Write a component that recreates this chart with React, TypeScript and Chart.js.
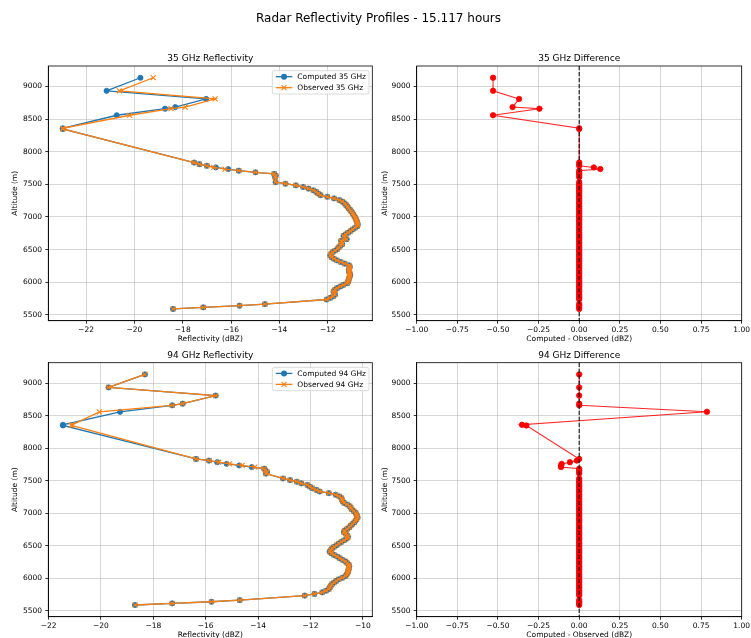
import React, { useEffect, useRef } from 'react';
import { Chart, registerables } from 'chart.js';
Chart.register(...registerables);

// ---------------- data ----------------
const altitudes = [
  9135, 8935, 8810, 8685, 8660, 8560, 8360, 8350,
  7835, 7810, 7785, 7760, 7735, 7710, 7685, 7660, 7635, 7610,
  7535, 7510, 7485, 7460, 7435, 7410, 7385, 7360, 7335, 7310, 7285, 7260, 7235, 7210, 7185, 7160,
  7135, 7110, 7085, 7060, 7035, 7010, 6985, 6960, 6935, 6910, 6885, 6860, 6835, 6810, 6785, 6760,
  6735, 6710, 6685, 6660, 6635, 6610, 6585, 6560, 6535, 6510, 6485, 6460, 6435, 6410, 6385, 6360,
  6335, 6310, 6285, 6260, 6235, 6210, 6185, 6160, 6135, 6110, 6085, 6060, 6035, 6010, 5985, 5960,
  5935, 5910, 5885, 5860, 5835, 5810, 5785, 5760, 5735,
  5665, 5640, 5615, 5590,
];

const computed35 = [
  -19.75, -21.15, -17.03, -18.31, -18.73, -20.73, -22.96, -22.96,
  -17.53, -17.31, -17.0, -16.63, -16.12, -15.68, -14.99, -14.22, -14.15, -14.18,
  -14.16, -13.75, -13.32, -13.02, -12.8, -12.6, -12.48, -12.4, -12.3, -12.02, -11.74, -11.52, -11.4, -11.3, -11.25, -11.19,
  -11.14, -11.08, -11.03, -10.98, -10.94, -10.9, -10.86, -10.83, -10.8, -10.78, -10.76, -10.78, -10.87, -10.97, -11.06, -11.16,
  -11.26, -11.35, -11.3, -11.22, -11.45, -11.42, -11.4, -11.48, -11.55, -11.6, -11.7, -11.8, -11.86, -11.9, -11.85, -11.75,
  -11.62, -11.46, -11.3, -11.12, -11.09, -11.12, -11.13, -11.12, -11.09, -11.07, -11.1, -11.12, -11.14, -11.16, -11.2, -11.35,
  -11.48, -11.62, -11.7, -11.76, -11.75, -11.7, -11.78, -11.9, -12.05,
  -14.6, -15.65, -17.15, -18.4,
];

const observed35 = [
  -19.22, -20.62, -16.66, -17.9, -18.485, -20.2, -22.96, -22.96,
  -17.53, -17.31, -17.0, -16.72, -16.25, -15.68, -14.99, -14.22, -14.15, -14.18,
  -14.16, -13.75, -13.32, -13.02, -12.8, -12.6, -12.48, -12.4, -12.3, -12.02, -11.74, -11.52, -11.4, -11.3, -11.25, -11.19,
  -11.14, -11.08, -11.03, -10.98, -10.94, -10.9, -10.86, -10.83, -10.8, -10.78, -10.76, -10.78, -10.87, -10.97, -11.06, -11.16,
  -11.26, -11.35, -11.3, -11.22, -11.45, -11.42, -11.4, -11.48, -11.55, -11.6, -11.7, -11.8, -11.86, -11.9, -11.85, -11.75,
  -11.62, -11.46, -11.3, -11.12, -11.09, -11.12, -11.13, -11.12, -11.09, -11.07, -11.1, -11.12, -11.14, -11.16, -11.2, -11.35,
  -11.48, -11.62, -11.7, -11.76, -11.75, -11.7, -11.78, -11.9, -12.05,
  -14.6, -15.65, -17.15, -18.4,
];

const diff35 = [
  -0.53, -0.53, -0.37, -0.41, -0.245, -0.53, 0, 0,
  0, 0, 0, 0.09, 0.13, 0, 0, 0, 0, 0,
  0, 0, 0, 0, 0, 0, 0, 0, 0, 0, 0, 0, 0, 0, 0, 0,
  0, 0, 0, 0, 0, 0, 0, 0, 0, 0, 0, 0, 0, 0, 0, 0,
  0, 0, 0, 0, 0, 0, 0, 0, 0, 0, 0, 0, 0, 0, 0, 0,
  0, 0, 0, 0, 0, 0, 0, 0, 0, 0, 0, 0, 0, 0, 0, 0,
  0, 0, 0, 0, 0, 0, 0, 0, 0,
  0, 0, 0, 0,
];

const computed94 = [
  -18.32, -19.71, -15.62, -16.88, -17.28, -19.27, -21.45, -21.45,
  -16.37, -15.88, -15.56, -15.2, -14.72, -14.24, -13.77, -13.72, -13.66, -13.7,
  -13.05, -12.78, -12.52, -12.35, -12.12, -12.02, -11.93, -11.78, -11.65, -11.3, -11.04, -10.9, -10.82, -10.8, -10.77, -10.72,
  -10.6, -10.5, -10.46, -10.42, -10.35, -10.28, -10.25, -10.22, -10.2, -10.24, -10.28, -10.33, -10.4, -10.46, -10.52, -10.6,
  -10.7, -10.72, -10.65, -10.6, -10.57, -10.62, -10.72, -10.82, -10.92, -11.0, -11.1, -11.18, -11.22, -11.27, -11.2, -11.1,
  -10.98, -10.88, -10.78, -10.66, -10.6, -10.54, -10.52, -10.53, -10.55, -10.56, -10.58, -10.62, -10.66, -10.78, -10.92, -11.02,
  -11.1, -11.18, -11.22, -11.26, -11.3, -11.4, -11.55, -11.85, -12.22,
  -14.7, -15.78, -17.28, -18.7,
];

const observed94 = [
  -18.32, -19.71, -15.62, -16.88, -17.28, -20.06, -21.1, -21.125,
  -16.37, -15.865, -15.503, -15.092, -14.608, -14.128, -13.77, -13.72, -13.66, -13.7,
  -13.05, -12.78, -12.52, -12.35, -12.12, -12.02, -11.93, -11.78, -11.65, -11.3, -11.04, -10.9, -10.82, -10.8, -10.77, -10.72,
  -10.6, -10.5, -10.46, -10.42, -10.35, -10.28, -10.25, -10.22, -10.2, -10.24, -10.28, -10.33, -10.4, -10.46, -10.52, -10.6,
  -10.7, -10.72, -10.65, -10.6, -10.57, -10.62, -10.72, -10.82, -10.92, -11.0, -11.1, -11.18, -11.22, -11.27, -11.2, -11.1,
  -10.98, -10.88, -10.78, -10.66, -10.6, -10.54, -10.52, -10.53, -10.55, -10.56, -10.58, -10.62, -10.66, -10.78, -10.92, -11.02,
  -11.1, -11.18, -11.22, -11.26, -11.3, -11.4, -11.55, -11.85, -12.22,
  -14.7, -15.78, -17.28, -18.7,
];

const diff94 = [
  0, 0, 0, 0, 0, 0.786, -0.352, -0.325,
  0, -0.015, -0.057, -0.108, -0.112, -0.112, 0, 0, 0, 0,
  0, 0, 0, 0, 0, 0, 0, 0, 0, 0, 0, 0, 0, 0, 0, 0,
  0, 0, 0, 0, 0, 0, 0, 0, 0, 0, 0, 0, 0, 0, 0, 0,
  0, 0, 0, 0, 0, 0, 0, 0, 0, 0, 0, 0, 0, 0, 0, 0,
  0, 0, 0, 0, 0, 0, 0, 0, 0, 0, 0, 0, 0, 0, 0, 0,
  0, 0, 0, 0, 0, 0, 0, 0, 0,
  0, 0, 0, 0,
];

const yTicks = [5500, 6000, 6500, 7000, 7500, 8000, 8500, 9000];
const xTicksRefl35 = [-22, -20, -18, -16, -14, -12];
const xTicksRefl94 = [-22, -20, -18, -16, -14, -12, -10];
const xTicksDiff = [-1, -0.75, -0.5, -0.25, 0, 0.25, 0.5, 0.75, 1];
const zeroLine = 0;

const suptitleText = 'Radar Reflectivity Profiles - 15.117 hours';

// ---------------- styling / layout ----------------
const FONT = "'DejaVu Sans', 'Liberation Sans', sans-serif";
const BLUE = '#1f77b4';
const ORANGE = '#ff7f0e';
const RED = '#ff0000';
const GRID = 'rgba(176,176,176,0.65)';
const W = 751;
const H = 638;
const YW = 40;
const XH = 15;

type Panel = {
  kind: 'refl' | 'diff';
  band: string;
  L: number; T: number; R: number; B: number;
  xMin: number; xMax: number;
  xTicks: number[];
  title: string;
  xLabel: string;
  yLabelX: number;
  computed?: number[];
  observed?: number[];
  diff?: number[];
  suptitle?: boolean;
};

const Y_MIN = 5410;
const Y_MAX = 9315;

const panels: Panel[] = [
  {
    kind: 'refl', band: '35 GHz', L: 48.3, T: 66, R: 372.3, B: 320.7,
    xMin: -23.56, xMax: -10.16, xTicks: xTicksRefl35,
    title: '35 GHz Reflectivity', xLabel: 'Reflectivity (dBZ)', yLabelX: 15,
    computed: computed35, observed: observed35, suptitle: true,
  },
  {
    kind: 'diff', band: '35 GHz', L: 416.7, T: 66, R: 741.7, B: 320.7,
    xMin: -1, xMax: 1, xTicks: xTicksDiff,
    title: '35 GHz Difference', xLabel: 'Computed - Observed (dBZ)', yLabelX: 385,
    diff: diff35,
  },
  {
    kind: 'refl', band: '94 GHz', L: 48.3, T: 362.7, R: 372.3, B: 616.7,
    xMin: -22.01, xMax: -9.64, xTicks: xTicksRefl94,
    title: '94 GHz Reflectivity', xLabel: 'Reflectivity (dBZ)', yLabelX: 15,
    computed: computed94, observed: observed94,
  },
  {
    kind: 'diff', band: '94 GHz', L: 416.7, T: 362.7, R: 741.7, B: 616.7,
    xMin: -1, xMax: 1, xTicks: xTicksDiff,
    title: '94 GHz Difference', xLabel: 'Computed - Observed (dBZ)', yLabelX: 385,
    diff: diff94,
  },
];

const minus = (s: string) => s.replace('-', '\u2212');

function drawMarker(ctx: CanvasRenderingContext2D, style: string, cx: number, cy: number, color: string) {
  ctx.save();
  if (style === 'circle') {
    ctx.fillStyle = color;
    ctx.beginPath();
    ctx.arc(cx, cy, 3, 0, Math.PI * 2);
    ctx.fill();
  } else {
    ctx.strokeStyle = color;
    ctx.lineWidth = 1.1;
    const r = 2.5;
    ctx.beginPath();
    ctx.moveTo(cx - r, cy - r); ctx.lineTo(cx + r, cy + r);
    ctx.moveTo(cx - r, cy + r); ctx.lineTo(cx + r, cy - r);
    ctx.stroke();
  }
  ctx.restore();
}

function makePlugin(p: Panel) {
  return {
    id: 'decor',
    afterDatasetsDraw(chart: any) {
      if (p.kind !== 'diff') return;
      const { ctx, chartArea: ca } = chart;
      const x0 = chart.scales.x.getPixelForValue(zeroLine);
      ctx.save();
      ctx.beginPath();
      ctx.setLineDash([4.2, 1.8]);
      ctx.strokeStyle = 'rgba(0,0,0,0.85)';
      ctx.lineWidth = 1.2;
      ctx.moveTo(x0, ca.top);
      ctx.lineTo(x0, ca.bottom);
      ctx.stroke();
      ctx.restore();
    },
    afterDraw(chart: any) {
      const { ctx, chartArea: ca } = chart;
      ctx.save();
      // frame
      ctx.strokeStyle = '#000';
      ctx.lineWidth = 0.8;
      ctx.strokeRect(ca.left, ca.top, ca.right - ca.left, ca.bottom - ca.top);
      // subplot title
      ctx.fillStyle = '#000';
      ctx.textAlign = 'center';
      ctx.textBaseline = 'middle';
      ctx.font = `9px ${FONT}`;
      ctx.fillText(p.title, (ca.left + ca.right) / 2, ca.top - 7);
      // x label
      ctx.font = `7.5px ${FONT}`;
      ctx.fillText(p.xLabel, (ca.left + ca.right) / 2, ca.bottom + 18.5);
      // y label
      ctx.save();
      ctx.translate(p.yLabelX, (ca.top + ca.bottom) / 2);
      ctx.rotate(-Math.PI / 2);
      ctx.fillText('Altitude (m)', 0, 0);
      ctx.restore();
      // suptitle
      if (p.suptitle) {
        ctx.font = `12px ${FONT}`;
        ctx.fillText(suptitleText, W / 2 + 3, 19);
      }
      // legend
      if (p.kind === 'refl') {
        const items = [
          { label: `Computed ${p.band}`, color: BLUE, style: 'circle' },
          { label: `Observed ${p.band}`, color: ORANGE, style: 'x' },
        ];
        ctx.font = `7.5px ${FONT}`;
        const tw = Math.max(...items.map((i) => ctx.measureText(i.label).width));
        const bw = 25 + tw + 3;
        const bh = 23.3;
        const bx = ca.right - 3.3 - bw;
        const by = ca.top + 4.7;
        ctx.beginPath();
        const rr = 2;
        ctx.moveTo(bx + rr, by);
        ctx.lineTo(bx + bw - rr, by);
        ctx.arcTo(bx + bw, by, bx + bw, by + rr, rr);
        ctx.lineTo(bx + bw, by + bh - rr);
        ctx.arcTo(bx + bw, by + bh, bx + bw - rr, by + bh, rr);
        ctx.lineTo(bx + rr, by + bh);
        ctx.arcTo(bx, by + bh, bx, by + bh - rr, rr);
        ctx.lineTo(bx, by + rr);
        ctx.arcTo(bx, by, bx + rr, by, rr);
        ctx.closePath();
        ctx.fillStyle = 'rgba(255,255,255,0.8)';
        ctx.fill();
        ctx.strokeStyle = '#d0d0d0';
        ctx.lineWidth = 0.8;
        ctx.stroke();
        items.forEach((it, k) => {
          const cy = by + 6 + k * 11;
          ctx.strokeStyle = it.color;
          ctx.lineWidth = 1.3;
          ctx.beginPath();
          ctx.moveTo(bx + 3.4, cy);
          ctx.lineTo(bx + 20, cy);
          ctx.stroke();
          drawMarker(ctx, it.style, bx + 11.7, cy, it.color);
          ctx.fillStyle = '#000';
          ctx.textAlign = 'left';
          ctx.textBaseline = 'middle';
          ctx.fillText(it.label, bx + 25, cy + 0.5);
        });
      }
      ctx.restore();
    },
  };
}

function buildConfig(p: Panel): any {
  const datasets: any[] = [];
  if (p.kind === 'refl') {
    datasets.push({
      label: `Observed ${p.band}`,
      data: altitudes.map((a, i) => ({ x: p.observed![i], y: a })),
      showLine: true,
      borderColor: ORANGE,
      backgroundColor: ORANGE,
      borderWidth: 1.3,
      pointStyle: 'crossRot',
      pointRadius: 3.5,
      pointBorderWidth: 1.1,
      pointBorderColor: ORANGE,
      order: 1,
    });
    datasets.push({
      label: `Computed ${p.band}`,
      data: altitudes.map((a, i) => ({ x: p.computed![i], y: a })),
      showLine: true,
      borderColor: BLUE,
      backgroundColor: BLUE,
      borderWidth: 1.3,
      pointStyle: 'circle',
      pointRadius: 2.6,
      pointBorderWidth: 0.8,
      pointBackgroundColor: BLUE,
      pointBorderColor: BLUE,
      order: 2,
    });
  } else {
    datasets.push({
      label: 'Difference',
      data: altitudes.map((a, i) => ({ x: p.diff![i], y: a })),
      showLine: true,
      borderColor: 'rgba(255,0,0,0.85)',
      backgroundColor: RED,
      borderWidth: 1.1,
      pointStyle: 'circle',
      pointRadius: 2.7,
      pointBorderWidth: 0.8,
      pointBackgroundColor: RED,
      pointBorderColor: RED,
    });
  }
  const tickFont = { family: FONT, size: 7.5 };
  return {
    type: 'scatter',
    data: { datasets },
    options: {
      animation: false,
      responsive: false,
      events: [],
      layout: {
        padding: { left: p.L - YW, top: p.T, right: W - p.R, bottom: H - p.B - XH },
      },
      plugins: { legend: { display: false }, title: { display: false }, tooltip: { enabled: false } },
      scales: {
        x: {
          type: 'linear',
          position: 'bottom',
          min: p.xMin,
          max: p.xMax,
          afterBuildTicks: (s: any) => { s.ticks = p.xTicks.map((v) => ({ value: v })); },
          afterFit: (s: any) => { s.height = XH; s.paddingLeft = 0; s.paddingRight = 0; },
          ticks: {
            autoSkip: false, maxRotation: 0, minRotation: 0, font: tickFont, color: '#000', padding: 2,
            callback: (v: number) => (p.kind === 'diff' ? minus(Number(v).toFixed(2)) : minus(String(v))),
          },
          grid: { color: GRID, lineWidth: 0.8, tickColor: '#000', tickLength: 3, drawTicks: true },
          border: { display: true, color: '#000', width: 0.8 },
        },
        y: {
          type: 'linear',
          position: 'left',
          min: Y_MIN,
          max: Y_MAX,
          afterBuildTicks: (s: any) => { s.ticks = yTicks.map((v) => ({ value: v })); },
          afterFit: (s: any) => { s.width = YW; s.paddingTop = 0; s.paddingBottom = 0; },
          ticks: { autoSkip: false, font: tickFont, color: '#000', padding: 3.2, callback: (v: number) => String(v) },
          grid: { color: GRID, lineWidth: 0.8, tickColor: '#000', tickLength: 3, drawTicks: true },
          border: { display: true, color: '#000', width: 0.8 },
        },
      },
    },
    plugins: [makePlugin(p)],
  };
}

function PanelChart({ panel }: { panel: Panel }) {
  const ref = useRef<HTMLCanvasElement>(null);
  useEffect(() => {
    if (!ref.current) return;
    const chart = new Chart(ref.current, buildConfig(panel));
    return () => chart.destroy();
  }, [panel]);
  return (
    <canvas
      ref={ref}
      width={W}
      height={H}
      style={{ position: 'absolute', left: 0, top: 0, width: W, height: H }}
    />
  );
}

export default function App() {
  return (
    <div style={{ position: 'absolute', left: 0, top: 0, width: W, height: H, background: '#fff', overflow: 'hidden' }}>
      {panels.map((p, i) => (
        <PanelChart key={i} panel={p} />
      ))}
    </div>
  );
}
